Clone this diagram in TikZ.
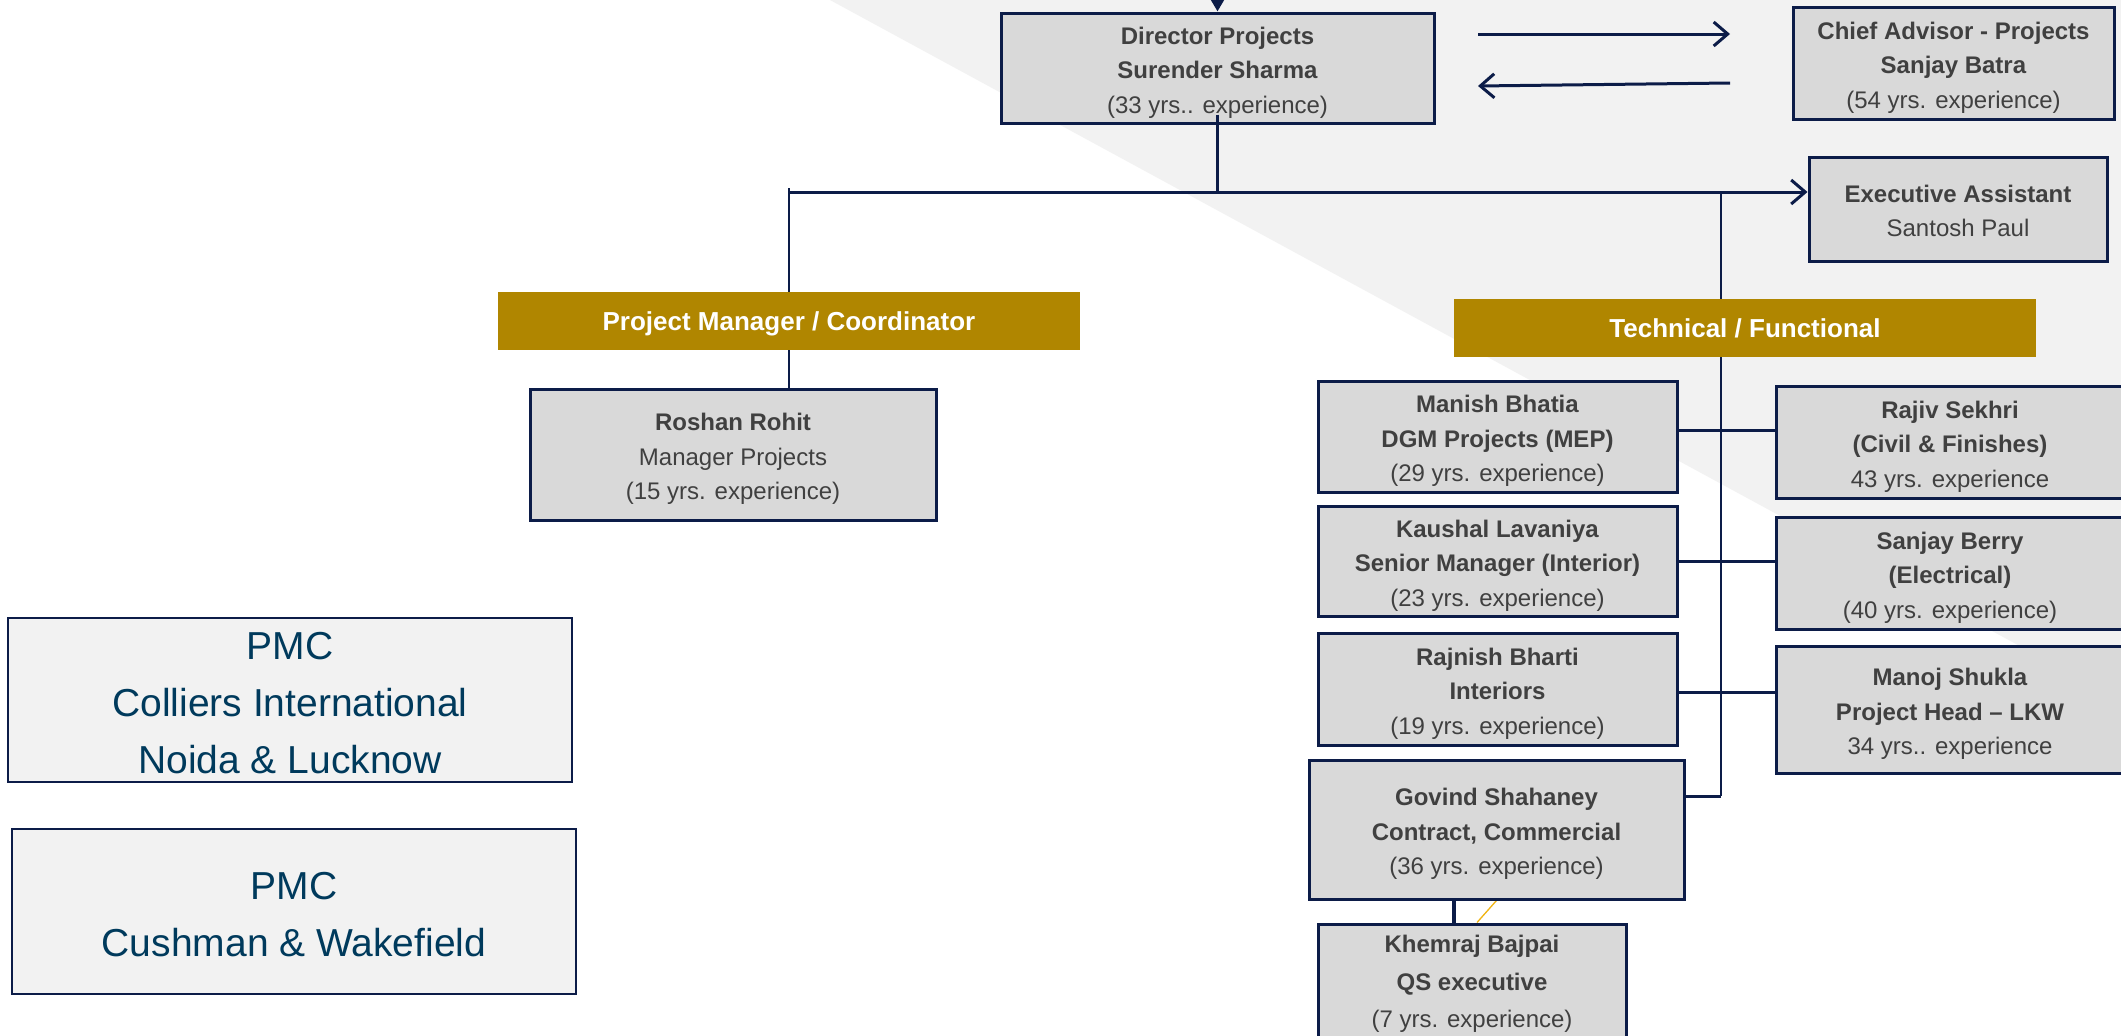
\documentclass[tikz,border=0pt]{standalone}
\usepackage{fontspec}
\setmainfont{Liberation Sans}
\usetikzlibrary{arrows.meta}
\definecolor{navy}{RGB}{12,28,72}
\definecolor{boxgray}{RGB}{217,217,217}
\definecolor{bggray}{RGB}{242,242,242}
\definecolor{txtgray}{RGB}{64,64,64}
\definecolor{gold}{RGB}{176,134,0}
\definecolor{pmcblue}{RGB}{0,58,92}
\definecolor{thinyellow}{RGB}{240,180,20}
\newcommand\orgtopgap{\rule{0pt}{26.5pt}}
\newcommand\exectopgap{\rule{0pt}{21.5pt}}
\newcommand\pmctopgap{\rule{0pt}{34pt}}
\pgfdeclarelayer{back}
\pgfdeclarelayer{lines}
\pgfsetlayers{back,lines,main}
\begin{document}
\begin{tikzpicture}[x=1pt,y=-1pt,
  orgbox/.style={draw=navy,line width=3pt,fill=boxgray,text=txtgray,align=center,inner sep=0pt,
    font=\fontsize{24}{34.5}\selectfont},
  catbar/.style={fill=gold,text=white,inner sep=0pt,font=\bfseries\fontsize{26}{30}\selectfont,
    minimum width=582pt,minimum height=58pt,text height=18.6pt,text depth=0pt},
  pmcbox/.style={draw=navy,line width=2.5pt,fill=bggray,text=pmcblue,align=center,inner sep=0pt,
    font=\fontsize{39}{57}\selectfont},
  link/.style={draw=navy,line width=3pt},
  linkarrow/.style={link,-{Straight Barb[length=14pt,width=24pt]}},
]
\useasboundingbox (0,0) rectangle (2121,1036);
\begin{pgfonlayer}{back}
  \fill[white] (0,0) rectangle (2121,1036);
  \fill[bggray] (830,0) -- (2121,0) -- (2121,701) -- cycle;
\end{pgfonlayer}

% top row
\node[orgbox,minimum width=433pt,minimum height=110pt] (dir) at (1217.5,68)
  {\orgtopgap\textbf{Director Projects}\\\textbf{Surender Sharma}\\(33 yrs.. experience)};
\node[orgbox,minimum width=321pt,minimum height=112pt] (chief) at (1953.5,63)
  {\orgtopgap\textbf{Chief Advisor - Projects}\\\textbf{Sanjay Batra}\\(54 yrs. experience)};
\node[orgbox,minimum width=298pt,minimum height=104pt] (exec) at (1958,209)
  {\exectopgap\textbf{Executive Assistant}\\Santosh Paul};

% category bars
\node[catbar] (pmbar) at (789,321) {Project Manager / Coordinator};
\node[catbar] (techbar) at (1745,328) {Technical / Functional};

% left branch
\node[orgbox,minimum width=406pt,minimum height=131pt] (roshan) at (733,454.5)
  {\orgtopgap\textbf{Roshan Rohit}\\Manager Projects\\(15 yrs. experience)};

% technical column left
\node[orgbox,minimum width=359pt,minimum height=111pt] (manish) at (1497.5,436.5)
  {\orgtopgap\textbf{Manish Bhatia}\\\textbf{DGM Projects (MEP)}\\(29 yrs. experience)};
\node[orgbox,minimum width=359pt,minimum height=110pt] (kaushal) at (1497.5,561)
  {\orgtopgap\textbf{Kaushal Lavaniya}\\\textbf{Senior Manager (Interior)}\\(23 yrs. experience)};
\node[orgbox,minimum width=359pt,minimum height=112pt] (rajnish) at (1497.5,689)
  {\orgtopgap\textbf{Rajnish Bharti}\\\textbf{Interiors}\\(19 yrs. experience)};
\node[orgbox,minimum width=375pt,minimum height=139pt] (govind) at (1496.5,829.5)
  {\orgtopgap\textbf{Govind Shahaney}\\\textbf{Contract, Commercial}\\(36 yrs. experience)};
\node[orgbox,minimum width=308pt,minimum height=120pt,font=\fontsize{24}{37.5}\selectfont] (khemraj) at (1472,984)
  {\textbf{Khemraj Bajpai}\\\textbf{QS executive}\\(7 yrs. experience)};

% technical column right
\node[orgbox,minimum width=348pt,minimum height=112pt] (rajiv) at (1950,442)
  {\orgtopgap\textbf{Rajiv Sekhri}\\\textbf{(Civil \& Finishes)}\\43 yrs. experience};
\node[orgbox,minimum width=348pt,minimum height=112pt] (berry) at (1950,573)
  {\orgtopgap\textbf{Sanjay Berry}\\\textbf{(Electrical)}\\(40 yrs. experience)};
\node[orgbox,minimum width=348pt,minimum height=127pt] (manoj) at (1950,709.5)
  {\orgtopgap\textbf{Manoj Shukla}\\\textbf{Project Head – LKW}\\34 yrs.. experience};

% PMC boxes
\node[pmcbox,minimum width=564pt,minimum height=164pt] (pmc1) at (290,700)
  {\pmctopgap PMC\\Colliers International\\Noida \& Lucknow};
\node[pmcbox,minimum width=564pt,minimum height=165pt] (pmc2) at (294,911.5)
  {\pmctopgap PMC\\Cushman \& Wakefield};

% helper coordinates
\coordinate (lvl) at (0,192);
\coordinate (hJ) at (pmbar.north |- lvl);
\coordinate (tTop) at (1721,192);
\coordinate (tBot) at (1721,796);
\coordinate (topsrc) at (1217.5,-40);
\coordinate (a1s) at (1478,34);
\coordinate (a1e) at (1730,34);
\coordinate (a2s) at (1730,83);
\coordinate (a2e) at (1478,86);
\coordinate (gk) at (1454,0);
\coordinate (c1) at ([yshift=6pt]manish.east);
\coordinate (c3) at ([yshift=-3pt]rajnish.east);

\begin{pgfonlayer}{lines}
  \draw[link,-{Triangle[length=12pt,width=13pt]}] (topsrc) -- (dir.north);
  \draw[linkarrow] (hJ) -- (hJ -| exec.west);
  \draw[link,line width=2.5pt] ([yshift=4pt]hJ) -- (pmbar.north);
  \draw[link,line width=2.5pt] (pmbar.south) -- (pmbar.south |- roshan.north);
  \draw[link,line width=2.5pt] (tTop) -- (tBot);
  \draw[link] (tBot) -- (tBot -| govind.east);
  \draw[link] (c1) -- (c1 -| rajiv.west);
  \draw[link] (kaushal.east) -- (kaushal.east -| berry.west);
  \draw[link] (c3) -- (c3 -| manoj.west);
  \draw[link,line width=4pt] (gk |- govind.south) -- (gk |- khemraj.north);
  \draw[thinyellow,line width=1.3pt] (govind.south) -- ([xshift=5pt]khemraj.north);
\end{pgfonlayer}
\draw[link,line width=2.5pt] ([yshift=10pt]dir.south) -- (dir.south |- lvl);
\draw[linkarrow] (a1s) -- (a1e);
\draw[linkarrow] (a2s) -- (a2e);
\end{tikzpicture}
\end{document}
